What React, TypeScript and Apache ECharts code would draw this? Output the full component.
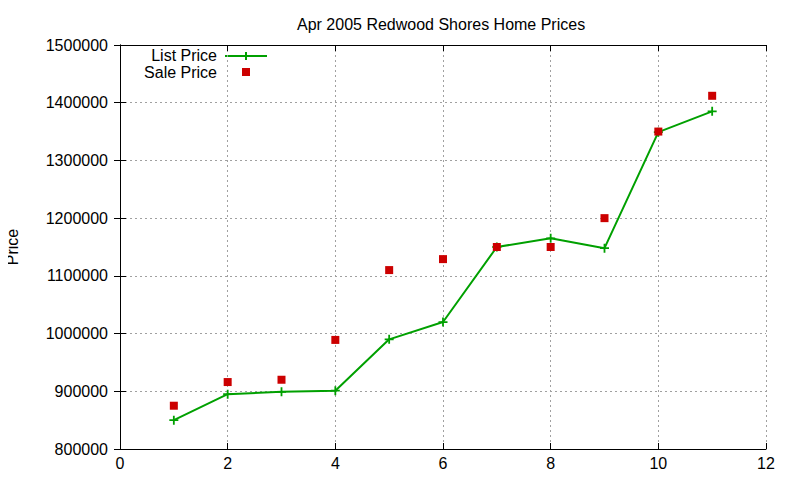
import React, { useEffect, useRef } from 'react';
import * as echarts from 'echarts';

const xValues = [1, 2, 3, 4, 5, 6, 7, 8, 9, 10, 11];
const listPrice = [850000, 895000, 899000, 901000, 990000, 1020000, 1150000, 1165000, 1148000, 1349000, 1385000];
const salePrice = [875000, 916000, 920000, 989000, 1110000, 1129000, 1150000, 1150000, 1200000, 1350000, 1412000];

const FONT = 'Liberation Sans, Arial, sans-serif';
const GREEN = '#00a000';
const RED = '#cc0000';
const PLUS = 'path://M4,0H6V4H10V6H6V10H4V6H0V4H4Z';

const App: React.FC = () => {
  const chartRef = useRef<HTMLDivElement>(null);

  useEffect(() => {
    const chart = echarts.init(chartRef.current!, undefined, { renderer: 'svg' });

    const axisLine = { show: true, lineStyle: { color: '#000', width: 1 } };
    const splitLine = { show: true, lineStyle: { color: '#a0a0a0', type: [2, 3] as any, width: 1 } };
    const tick = { show: true, inside: true, length: 6, lineStyle: { color: '#000' } };

    const options = {
      animation: false,
      title: {
        text: 'Apr 2005 Redwood Shores Home Prices',
        left: 292,
        top: 11,
        textStyle: { fontFamily: FONT, fontSize: 16, fontWeight: 'normal', color: '#000' },
      },
      grid: { left: 120, right: 34, top: 45, bottom: 31, show: false, outerBoundsMode: 'none', containLabel: false },
      xAxis: [
        {
          type: 'value',
          min: 0,
          max: 12,
          interval: 2,
          position: 'bottom',
          axisLine,
          axisTick: tick,
          splitLine,
          axisLabel: { color: '#000', fontFamily: FONT, fontSize: 16, margin: 6 },
        },
        {
          type: 'value',
          min: 0,
          max: 12,
          interval: 2,
          position: 'top',
          axisLine,
          axisTick: tick,
          splitLine: { show: false },
          axisLabel: { show: false },
        },
      ],
      yAxis: [
        {
          type: 'value',
          min: 800000,
          max: 1500000,
          interval: 100000,
          position: 'left',
          name: 'Price',
          nameLocation: 'middle',
          nameGap: 100,
          nameTextStyle: { color: '#000', fontFamily: FONT, fontSize: 16 },
          axisLine,
          axisTick: tick,
          splitLine,
          axisLabel: {
            color: '#000',
            fontFamily: FONT,
            fontSize: 16,
            margin: 12,
            formatter: (v: number) => String(v),
          },
        },
        {
          type: 'value',
          min: 800000,
          max: 1500000,
          interval: 100000,
          position: 'right',
          axisLine,
          axisTick: tick,
          splitLine: { show: false },
          axisLabel: { show: false },
        },
      ],
      graphic: [
        {
          type: 'text',
          x: 217,
          y: 55,
          style: {
            text: 'List Price',
            fontFamily: FONT,
            fontSize: 16,
            lineHeight: 14,
            fill: '#000',
            textAlign: 'right',
            textVerticalAlign: 'middle',
          },
        },
        {
          type: 'text',
          x: 217,
          y: 72,
          style: {
            text: 'Sale Price',
            fontFamily: FONT,
            fontSize: 16,
            lineHeight: 14,
            fill: '#000',
            textAlign: 'right',
            textVerticalAlign: 'middle',
          },
        },
        {
          type: 'line',
          shape: { x1: 225, y1: 56, x2: 267, y2: 56 },
          style: { stroke: GREEN, lineWidth: 2 },
        },
        {
          type: 'line',
          shape: { x1: 246, y1: 52, x2: 246, y2: 60 },
          style: { stroke: GREEN, lineWidth: 2 },
        },
        {
          type: 'rect',
          shape: { x: 242, y: 68, width: 8, height: 8 },
          style: { fill: RED },
        },
      ],
      series: [
        {
          name: 'List Price',
          type: 'line',
          data: xValues.map((x, i) => [x, listPrice[i]]),
          symbol: PLUS,
          symbolSize: 9,
          showAllSymbol: true,
          itemStyle: { color: GREEN },
          lineStyle: { color: GREEN, width: 2 },
          z: 3,
        },
        {
          name: 'Sale Price',
          type: 'scatter',
          data: xValues.map((x, i) => [x, salePrice[i]]),
          symbol: 'rect',
          symbolSize: 8,
          itemStyle: { color: RED, opacity: 1 },
          z: 4,
        },
      ],
    };

    chart.setOption(options as any);

    return () => {
      chart.dispose();
    };
  }, []);

  return (
    <div
      ref={chartRef}
      style={{ width: 800, height: 480, margin: -8 }}
    />
  );
};

export default App;
